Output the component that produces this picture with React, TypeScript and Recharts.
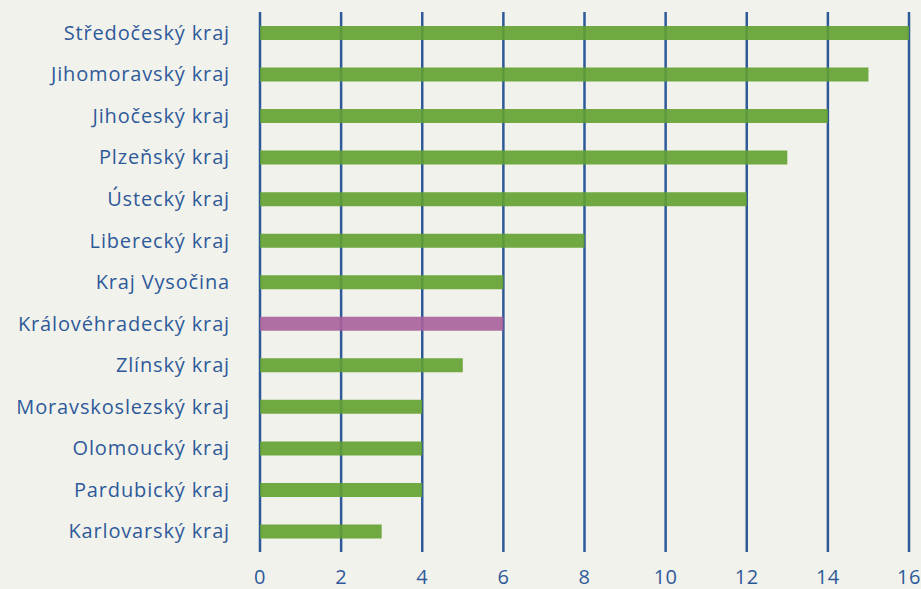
import { BarChart, Bar, XAxis, YAxis, CartesianGrid, Cell } from "recharts";

const regions = [
  "Středočeský kraj",
  "Jihomoravský kraj",
  "Jihočeský kraj",
  "Plzeňský kraj",
  "Ústecký kraj",
  "Liberecký kraj",
  "Kraj Vysočina",
  "Královéhradecký kraj",
  "Zlínský kraj",
  "Moravskoslezský kraj",
  "Olomoucký kraj",
  "Pardubický kraj",
  "Karlovarský kraj",
];

const counts = [16, 15, 14, 13, 12, 8, 6, 6, 5, 4, 4, 4, 3];

const xTicks = [0, 2, 4, 6, 8, 10, 12, 14, 16];

const highlighted = "Královéhradecký kraj";

const data = regions.map((name, i) => ({ name, value: counts[i] }));

const BLUE = "#2e5a9a";
const GREEN = "#62a030";
const PURPLE = "#a9619a";

export default function App() {
  return (
    <div
      style={{
        position: "absolute",
        left: 0,
        top: 0,
        width: 921,
        height: 589,
        background: "#f2f2ec",
        fontFamily: "'Open Sans', sans-serif",
      }}
    >
      <BarChart
        width={921}
        height={589}
        data={data}
        layout="vertical"
        margin={{ top: 12, right: 12, bottom: 0, left: 0 }}
        barCategoryGap={0}
      >
        <CartesianGrid
          horizontal={false}
          stroke={BLUE}
          strokeWidth={2.5}
          strokeOpacity={1}
        />
        <XAxis
          type="number"
          domain={[0, 16]}
          ticks={xTicks}
          axisLine={false}
          tickLine={false}
          tickSize={0}
          tickMargin={18}
          height={37}
          interval={0}
          tick={{ fill: BLUE, fontSize: 20, letterSpacing: 0.5 }}
        />
        <YAxis
          type="category"
          dataKey="name"
          width={260}
          axisLine={false}
          tickLine={false}
          tickSize={0}
          tickMargin={30}
          interval={0}
          tick={{ fill: BLUE, fontSize: 20, letterSpacing: 0.85 }}
        />
        <Bar dataKey="value" barSize={14} fillOpacity={0.9} isAnimationActive={false}>
          {data.map((d) => (
            <Cell key={d.name} fill={d.name === highlighted ? PURPLE : GREEN} />
          ))}
        </Bar>
      </BarChart>
    </div>
  );
}
